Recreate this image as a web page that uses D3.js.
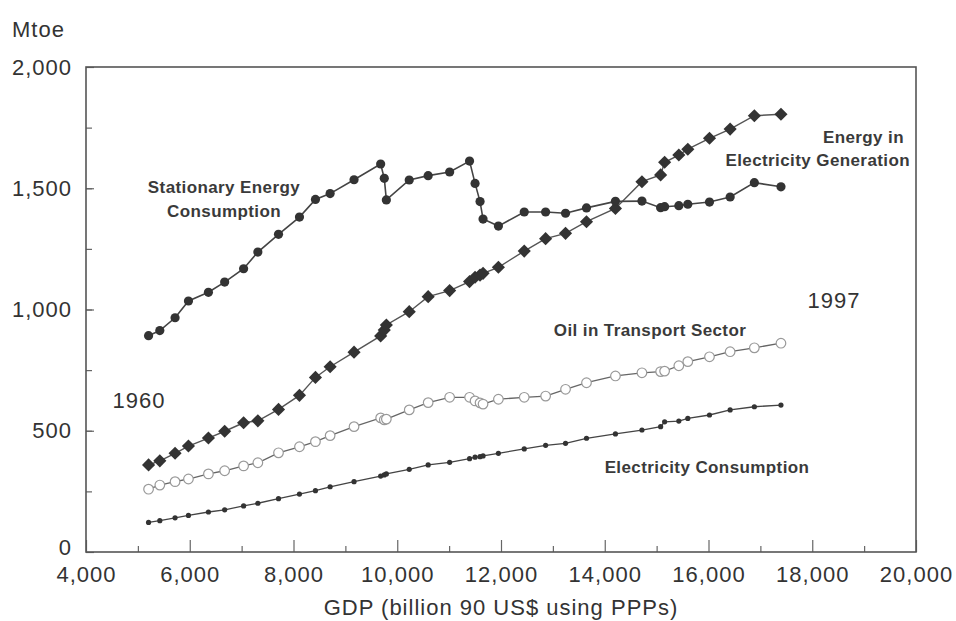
<!DOCTYPE html>
<html>
<head>
<meta charset="utf-8">
<script src="https://cdn.jsdelivr.net/npm/d3@7"></script>
<style>
  body { margin: 0; background: #fff; }
  svg { font-family: "Liberation Sans", Arial, sans-serif; }
  .axis text { fill: #333; font-size: 22px; letter-spacing: 1px; }
  .axis path { display: none; }
  .axis line { stroke: #666; stroke-width: 1.2; }
  .note { fill: #3a3a3a; font-weight: bold; font-size: 17px; letter-spacing: 0.4px; }
  .yr { fill: #333; font-size: 22px; letter-spacing: 1px; }
</style>
</head>
<body>
<div id="chart"></div>
<script>
// GDP per year, 1960..1997 (billion 90 US$ using PPPs)
const years = d3.range(1960, 1998);
const gdp = [5206, 5423, 5717, 5975, 6360, 6673, 7038, 7313, 7711, 8115,
  8423, 8706, 9167, 9680, 9750, 9790, 10231, 10596, 11010, 11394,
  11500, 11596, 11654, 11950, 12448, 12860, 13244, 13648, 14206, 14717,
  15077, 15154, 15428, 15601, 16019, 16417, 16884, 17397];

// Mtoe
const stationary = [892, 913, 966, 1035, 1071, 1113, 1168, 1237, 1310, 1381,
  1454, 1478, 1535, 1600, 1541, 1452, 1534, 1552, 1567, 1612,
  1520, 1445, 1373, 1344, 1402, 1402, 1397, 1419, 1446, 1447,
  1420, 1424, 1428, 1434, 1443, 1464, 1523, 1506];
const generation = [359, 376, 407, 437, 470, 498, 533, 541, 588, 646,
  720, 764, 824, 891, 915, 936, 991, 1053, 1078, 1115,
  1133, 1142, 1149, 1174, 1241, 1292, 1314, 1362, 1417, 1527,
  1555, 1607, 1637, 1661, 1706, 1744, 1799, 1805];
const transport = [259, 276, 290, 301, 322, 335, 355, 368, 409, 434,
  455, 480, 517, 553, 545, 548, 586, 616, 638, 638,
  623, 615, 610, 630, 638, 643, 671, 698, 726, 739,
  744, 746, 768, 785, 805, 826, 842, 861];
const electricity = [122, 129, 141, 151, 165, 174, 190, 201, 220, 239,
  253, 269, 290, 313, 318, 322, 341, 359, 370, 385,
  391, 393, 396, 407, 425, 440, 448, 469, 487, 503,
  517, 537, 540, 551, 565, 586, 599, 606];

const xTicks = d3.range(4000, 20001, 2000);
const yTicks = [0, 500, 1000, 1500, 2000];

const W = 956, H = 621;
const m = { left: 86, right: 40, top: 67, bottom: 69 };

const svg = d3.select("#chart").append("svg")
  .attr("width", W).attr("height", H);

const x = d3.scaleLinear().domain([4000, 20000]).range([m.left, W - m.right]);
const y = d3.scaleLinear().domain([0, 2000]).range([H - m.bottom, m.top]);

const fmt = d3.format(",");

// minor ticks
svg.append("g").attr("class", "axis")
  .attr("transform", `translate(0,${y(0)})`)
  .call(d3.axisBottom(x).tickValues(d3.range(5000, 20000, 2000)).tickSize(-6).tickFormat(""));
svg.append("g").attr("class", "axis")
  .attr("transform", `translate(${x(4000)},0)`)
  .call(d3.axisLeft(y).tickValues(d3.range(250, 2000, 250)).tickSize(-6).tickFormat(""));

// major ticks + labels
svg.append("g").attr("class", "axis")
  .attr("transform", `translate(0,${y(0)})`)
  .call(d3.axisBottom(x).tickValues(xTicks).tickSize(-12).tickPadding(14).tickFormat(fmt));
const yAxis = svg.append("g").attr("class", "axis")
  .attr("transform", `translate(${x(4000)},0)`)
  .call(d3.axisLeft(y).tickValues(yTicks).tickSize(-8).tickPadding(14).tickFormat(fmt));
// the "0" sits just above the "4,000" label
yAxis.selectAll(".tick text").filter(d => d === 0).attr("dy", "0.1em");

// frame
svg.append("rect")
  .attr("x", x(4000)).attr("y", y(2000))
  .attr("width", x(20000) - x(4000)).attr("height", y(0) - y(2000))
  .attr("fill", "none").attr("stroke", "#555").attr("stroke-width", 1.6);

svg.append("text").attr("class", "yr").attr("x", 12).attr("y", 37).text("Mtoe");
svg.append("text").attr("class", "yr")
  .attr("x", (x(4000) + x(20000)) / 2).attr("y", 615)
  .attr("text-anchor", "middle").text("GDP (billion 90 US$ using PPPs)");

const pts = vals => vals.map((v, i) => [gdp[i], v]);
const line = d3.line().x(d => x(d[0])).y(d => y(d[1]));

function series(vals, width, color) {
  svg.append("path").datum(pts(vals))
    .attr("d", line).attr("fill", "none")
    .attr("stroke", color).attr("stroke-width", width);
  return svg.append("g").selectAll("g").data(pts(vals)).join("g")
    .attr("transform", d => `translate(${x(d[0])},${y(d[1])})`);
}

series(electricity, 1.3, "#444")
  .append("circle").attr("r", 2.6).attr("fill", "#333");

series(transport, 1.3, "#666")
  .append("circle").attr("r", 4.8).attr("fill", "#fff")
  .attr("stroke", "#999").attr("stroke-width", 1.2);

series(generation, 1.4, "#555")
  .append("path").attr("d", d3.symbol(d3.symbolDiamond2, 110)).attr("fill", "#333");

series(stationary, 1.6, "#444")
  .append("circle").attr("r", 4.6).attr("fill", "#333");

// annotations
const note = (tx, ty, s, anchor) => svg.append("text").attr("class", "note")
  .attr("x", tx).attr("y", ty).attr("text-anchor", anchor || "middle").text(s);
note(224, 193, "Stationary Energy");
note(224, 217, "Consumption");
note(904, 143, "Energy in", "end");
note(910, 166, "Electricity Generation", "end");
note(650, 336, "Oil in Transport Sector");
note(707, 473, "Electricity Consumption");

svg.append("text").attr("class", "yr").attr("x", 834).attr("y", 308)
  .attr("text-anchor", "middle").text("1997");
svg.append("text").attr("class", "yr").attr("x", 139).attr("y", 408)
  .attr("text-anchor", "middle").text("1960");
</script>
</body>
</html>
